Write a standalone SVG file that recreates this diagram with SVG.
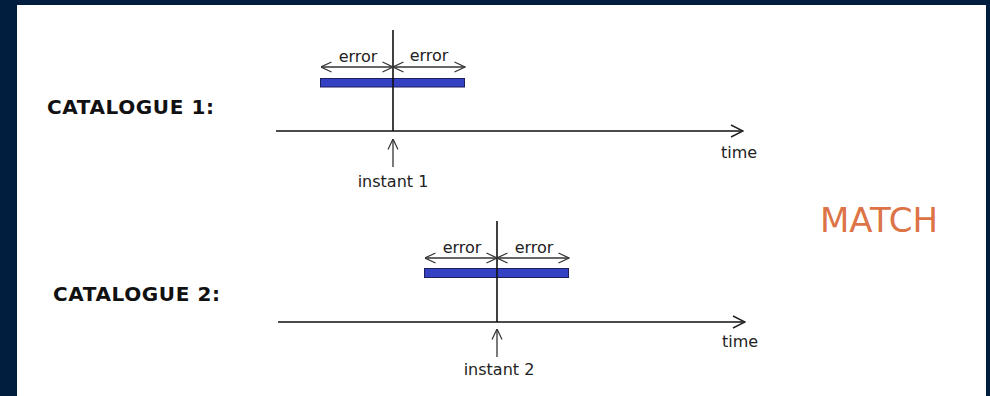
<svg xmlns="http://www.w3.org/2000/svg" width="990" height="396" viewBox="0 0 990 396">
<defs>
<style>
.lbl{font-family:"DejaVu Sans",Verdana,sans-serif;font-size:16px;fill:#222}
.cat{font-family:"DejaVu Sans",Verdana,sans-serif;font-size:20px;font-weight:bold;fill:#111;letter-spacing:0.6px}
.ln{stroke:#111;stroke-width:1.6;fill:none}
.ar{stroke:#333;stroke-width:1.3;fill:none}
.bar{fill:#3441c2;stroke:#1c1f5c;stroke-width:1}
</style>
<marker id="ah" viewBox="0 0 14 14" refX="13" refY="7" markerWidth="14" markerHeight="14" markerUnits="userSpaceOnUse" orient="auto-start-reverse">
<path d="M1,1 L13,7 L1,13" fill="none" stroke="#222" stroke-width="1.4"/>
</marker>
<marker id="ahs" viewBox="0 0 12 12" refX="11.5" refY="6" markerWidth="12" markerHeight="12" markerUnits="userSpaceOnUse" orient="auto-start-reverse">
<path d="M1,1 L11.5,6 L1,11" fill="none" stroke="#333" stroke-width="1.2"/>
</marker>
</defs>
<rect x="0" y="0" width="990" height="396" fill="#011e3e"/>
<rect x="17" y="5" width="969" height="391" fill="#ffffff"/>

<g id="catalogue1">
<text class="cat" x="47" y="114">CATALOGUE 1:</text>
<rect class="bar" x="320.5" y="78.5" width="144" height="8.5"/>
<text class="lbl" x="358" y="62" text-anchor="middle">error</text>
<text class="lbl" x="429" y="61" text-anchor="middle">error</text>
<text class="lbl" x="739" y="158" text-anchor="middle">time</text>
<text class="lbl" x="393" y="187" text-anchor="middle">instant 1</text>
</g>

<g id="catalogue2">
<text class="cat" x="53" y="301">CATALOGUE 2:</text>
<rect class="bar" x="424.5" y="268.5" width="144" height="9"/>
<text class="lbl" x="462" y="253" text-anchor="middle">error</text>
<text class="lbl" x="534" y="253" text-anchor="middle">error</text>
<text class="lbl" x="740" y="347" text-anchor="middle">time</text>
<text class="lbl" x="499" y="375" text-anchor="middle">instant 2</text>
</g>

<g id="match">
<text x="879" y="232" text-anchor="middle" font-family="'DejaVu Sans',Verdana,sans-serif" font-size="34" fill="#dd7447">MATCH</text>
</g>

<g id="connectors">
<line class="ln" x1="393" y1="30" x2="393" y2="131"/>
<line class="ln" x1="276" y1="131" x2="743" y2="131" marker-end="url(#ah)"/>
<line class="ar" x1="321" y1="67" x2="393" y2="67" marker-start="url(#ahs)" marker-end="url(#ahs)"/>
<line class="ar" x1="393" y1="67" x2="465" y2="67" marker-start="url(#ahs)" marker-end="url(#ahs)"/>
<line class="ar" x1="393" y1="167" x2="393" y2="139" marker-end="url(#ahs)"/>

<line class="ln" x1="497" y1="221" x2="497" y2="322"/>
<line class="ln" x1="278" y1="322" x2="745" y2="322" marker-end="url(#ah)"/>
<line class="ar" x1="425" y1="258" x2="497" y2="258" marker-start="url(#ahs)" marker-end="url(#ahs)"/>
<line class="ar" x1="497" y1="258" x2="569" y2="258" marker-start="url(#ahs)" marker-end="url(#ahs)"/>
<line class="ar" x1="497" y1="357" x2="497" y2="329" marker-end="url(#ahs)"/>
</g>
</svg>
